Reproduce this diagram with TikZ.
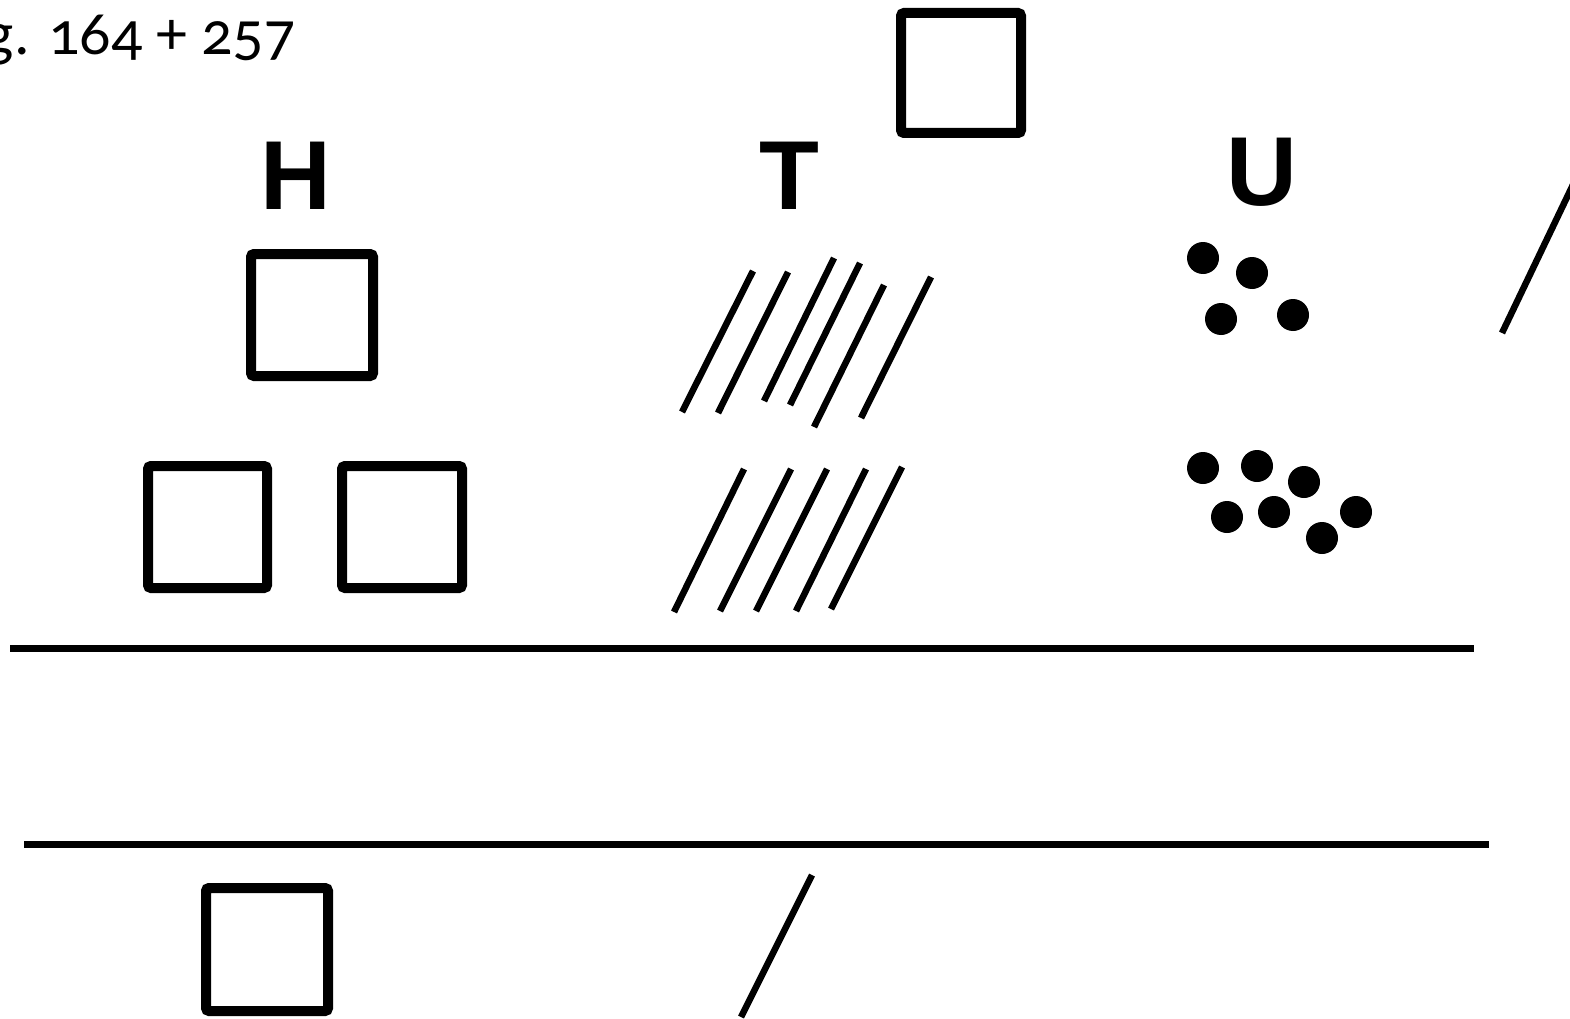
\documentclass[tikz,border=0pt]{standalone}
\usepackage{fontspec}
\setmainfont{Liberation Sans}
\newfontfamily\numfont[Numbers=OldStyle]{Carlito}
\usepackage{tikz}

\begin{document}
\begin{tikzpicture}[
  x=1pt, y=-1pt,
  sq/.style={draw=black, line width=10pt, rounded corners=3pt},
  tally/.style={draw=black, line width=6.5pt},
  rule/.style={draw=black, line width=7pt},
  dot/.style={fill=black},
  head/.style={font=\fontsize{98}{98}\selectfont\bfseries, inner sep=0pt},
  ex/.style={font=\fontsize{62}{62}\selectfont\numfont, inner sep=0pt, anchor=base east}
]
\useasboundingbox (0,0) rectangle (1570,1019);

% example sum
\node[ex] (sum) at (296,55) {g. 164 + 257};

% column heads
\node[head] (hH) at (296,176) {H};
\node[head] (hT) at (789,176) {T};
\node[head] (hU) at (1262,172) {U};

% hundreds
\draw[sq] (901,13) rectangle (1021,133);
\draw[sq] (251,254) rectangle (373,376);
\draw[sq] (148,466) rectangle (267,588);
\draw[sq] (342,466) rectangle (462,588);
\draw[sq] (206,888) rectangle (328,1011);

% tens
\foreach \xa/\ya/\xb/\yb in {753/271/682/412, 788/272/718/413, 834/258/764/401,
    860/263/790/405, 884/285/814/427, 931/277/861/418}
  \draw[tally] (\xa,\ya) -- (\xb,\yb);
\foreach \xa/\ya/\xb/\yb in {744/469/674/612, 791/469/720/611, 827/469/756/611,
    866/469/796/611, 902/467/831/609}
  \draw[tally] (\xa,\ya) -- (\xb,\yb);
\draw[tally] (1580,170) -- (1502,333);
\draw[tally] (812,875) -- (741,1017);

% units
\foreach \px/\py in {1203/258, 1252/273, 1221/319, 1293/315}
  \fill[dot] (\px,\py) circle (16pt);
\foreach \px/\py in {1203/468, 1257/466, 1304/482, 1227/517, 1274/512, 1356/512, 1322/538}
  \fill[dot] (\px,\py) circle (16pt);

% lines
\draw[rule] (10,648) -- (1474,648);
\draw[rule] (24,844) -- (1489,844);
\end{tikzpicture}
\end{document}
